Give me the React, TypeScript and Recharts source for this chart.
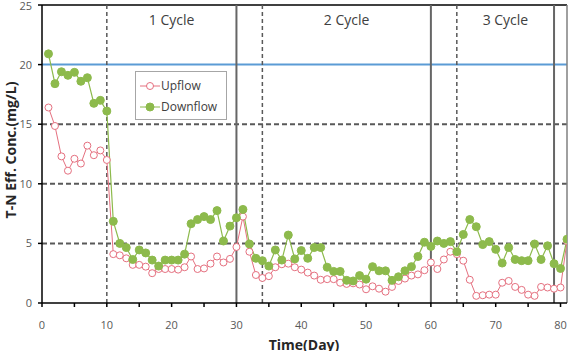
import React from 'react';
import {
  LineChart, Line, XAxis, YAxis, ReferenceLine, ReferenceArea,
} from 'recharts';

// Days 1..81
const days = Array.from({ length: 81 }, (_, i) => i + 1);

const upflow = [
  16.4, 14.85, 12.3, 11.1, 12.1, 11.7, 13.2, 12.4, 12.8, 12.0,
  4.1, 4.0, 3.75, 3.2, 3.2, 3.05, 2.5, 2.85, 2.85, 2.85,
  2.8, 3.0, 3.9, 2.85, 2.9, 3.3, 3.9, 3.4, 3.7, 4.7,
  7.25, 4.3, 2.35, 2.1, 2.25, 3.0, 3.25, 3.3, 3.0, 2.8,
  2.55, 2.3, 1.95, 2.0, 2.0, 1.7, 1.6, 1.65, 1.55, 1.15,
  1.4, 1.2, 0.95, 1.35, 1.85, 2.05, 2.3, 2.4, 2.75, 3.4,
  2.85, 3.65, 4.3, 4.1, 3.55, 1.95, 0.6, 0.65, 0.7, 0.7,
  1.7, 1.85, 1.35, 1.1, 0.7, 0.6, 1.35, 1.3, 1.2, 1.3,
  5.2,
];

const downflow = [
  20.9, 18.4, 19.4, 19.1, 19.35, 18.6, 18.9, 16.75, 17.0, 16.1,
  6.85, 5.0, 4.65, 3.65, 4.45, 4.2, 3.6, 3.1, 3.6, 3.6,
  3.6, 4.1, 6.65, 7.0, 7.25, 7.0, 7.75, 5.2, 6.45, 7.15,
  7.85, 4.95, 3.75, 3.55, 3.1, 4.45, 3.6, 5.7, 3.7, 4.4,
  3.75, 4.65, 4.65, 3.0, 2.65, 2.65, 1.9, 1.85, 2.3, 2.0,
  3.05, 2.7, 2.7, 1.9, 2.2, 2.7, 3.05, 3.9, 5.1, 4.75,
  5.2, 5.0, 5.15, 4.3, 5.75, 7.0, 6.4, 4.9, 5.15, 4.5,
  3.35, 4.65, 3.65, 3.55, 3.55, 4.95, 3.65, 4.8, 3.3, 2.9,
  5.35,
];

const xTicks = [0, 5, 10, 15, 20, 25, 30, 35, 40, 45, 50, 55, 60, 65, 70, 75, 80];
const yTicks = [0, 5, 10, 15, 20, 25];
const gridY = [5, 10, 15];
const cycleStarts = [10, 34, 64];      // dashed lines
const cycleEnds = [30, 60, 79];        // solid lines
const cycles = [
  { name: '1 Cycle', from: 10, to: 30 },
  { name: '2 Cycle', from: 34, to: 60 },
  { name: '3 Cycle', from: 64, to: 79 },
];
const seriesNames = ['Upflow', 'Downflow'];

const data = days.map((d, i) => ({ day: d, up: upflow[i], down: downflow[i] }));

const FONT = '"Open Sans", "Liberation Sans", sans-serif';
const UP_COLOR = '#E5707F';
const DOWN_COLOR = '#8DBA4C';

const LegendBox = () => (
  <div style={{
    position: 'absolute', left: 135, top: 71,
    border: '1px solid #a6a6a6', background: '#fff', width: 92, height: 49,
    fontFamily: FONT, fontSize: 12, color: '#404040', boxSizing: 'border-box',
    paddingTop: 3,
  }}>
    {[{ label: seriesNames[0], c: UP_COLOR, hollow: true }, { label: seriesNames[1], c: DOWN_COLOR, hollow: false }].map(r => (
      <div key={r.label} style={{ display: 'flex', alignItems: 'center', height: 21 }}>
        <svg width={22} height={12} style={{ marginLeft: 3 }}>
          <line x1={1} y1={6} x2={21} y2={6} stroke={r.c} strokeWidth={1} />
          <circle cx={11} cy={6} r={r.hollow ? 3.5 : 4} fill={r.hollow ? '#fff' : r.c} stroke={r.c} />
        </svg>
        <span>{r.label}</span>
      </div>
    ))}
  </div>
);

export default function App() {
  return (
    <div style={{ position: 'absolute', left: 0, top: 0, width: 572, height: 351, background: '#fff' }}>
      <LineChart width={572} height={351} data={data} margin={{ top: 5, right: 5, bottom: 0, left: 6 }}>
        <XAxis
          dataKey="day"
          type="number"
          domain={[0, 81]}
          ticks={xTicks}
          allowDataOverflow
          height={48}
          tickSize={4}
          tickMargin={14}
          stroke="#000"
          strokeWidth={1.5}
          tick={{ fontSize: 11, fill: '#595959', fontFamily: FONT }}
          tickFormatter={(v: number) => (v % 10 === 0 ? String(v) : '')}
          label={{
            content: () => (
              <text x={304} y={350} textAnchor="middle" fontFamily={FONT} fontSize={14} fontWeight="bold" fill="#262626">
                Time(Day)
              </text>
            ),
          }}
        />
        <YAxis
          type="number"
          domain={[0, 25]}
          ticks={yTicks}
          width={36}
          tickSize={4}
          tickMargin={6}
          stroke="#000"
          strokeWidth={1.5}
          tick={{ fontSize: 11, fill: '#595959', fontFamily: FONT }}
          label={{
            content: () => (
              <text x={10} y={150} transform="rotate(-90 10 150)" textAnchor="middle" dominantBaseline="central"
                fontFamily={FONT} fontSize={14} fontWeight="bold" fill="#262626">
                T-N Eff. Conc.(mg/L)
              </text>
            ),
          }}
        />
        {gridY.map(y => (
          <ReferenceLine key={'g' + y} y={y} stroke="#595959" strokeWidth={2} strokeDasharray="5 3" />
        ))}
        <ReferenceLine y={20} stroke="#5B9BD5" strokeWidth={2} />
        <ReferenceLine y={25} stroke="#404040" strokeWidth={2} />
        <ReferenceLine x={81} stroke="#808080" strokeWidth={1.5} />
        {cycleStarts.map(x => (
          <ReferenceLine key={'s' + x} x={x} stroke="#595959" strokeWidth={1.5} strokeDasharray="4 3" />
        ))}
        {cycleEnds.map(x => (
          <ReferenceLine key={'e' + x} x={x} stroke="#666" strokeWidth={2} />
        ))}
        {cycles.map(c => (
          <ReferenceArea key={c.name} x1={c.from} x2={c.to} y1={22.5} y2={25} fill="none" stroke="none"
            label={{ value: c.name, position: 'center', fontSize: 14, fill: '#404040', fontFamily: FONT }} />
        ))}
        <Line
          dataKey="up"
          name={seriesNames[0]}
          stroke={UP_COLOR}
          strokeWidth={1}
          dot={{ r: 3.5, fill: '#fff', stroke: UP_COLOR, strokeWidth: 1 }}
          isAnimationActive={false}
        />
        <Line
          dataKey="down"
          name={seriesNames[1]}
          stroke={DOWN_COLOR}
          strokeWidth={1.2}
          dot={{ r: 4, fill: DOWN_COLOR, stroke: DOWN_COLOR, strokeWidth: 1 }}
          isAnimationActive={false}
        />
      </LineChart>
      <LegendBox />
    </div>
  );
}
